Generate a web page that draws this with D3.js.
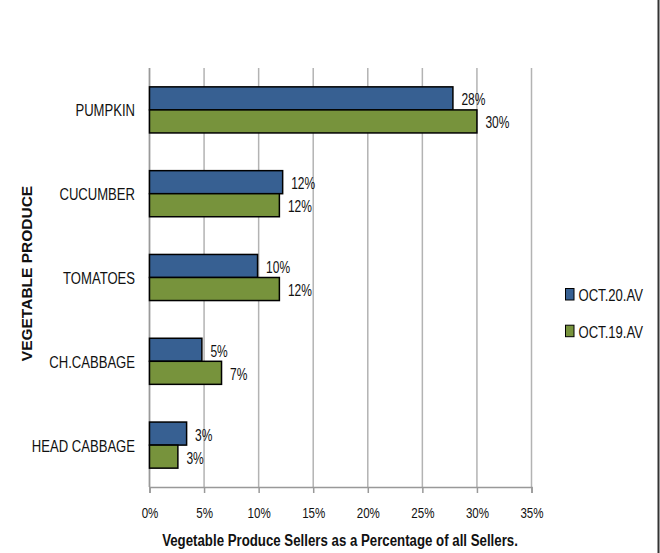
<!DOCTYPE html>
<html><head><meta charset="utf-8">
<script src="https://cdn.jsdelivr.net/npm/d3@7"></script>
<style>
body{margin:0;background:#fff;}
svg{display:block;font-family:"Liberation Sans",Arial,sans-serif;}
</style></head><body>
<svg id="c" width="660" height="553"></svg>
<script>
const categories = ["PUMPKIN","CUCUMBER","TOMATOES","CH.CABBAGE","HEAD CABBAGE"];
const seriesNames = ["OCT.20.AV","OCT.19.AV"];
const oct20 = [27.8, 12.2, 9.9, 4.8, 3.4];
const oct19 = [30.0, 11.9, 11.9, 6.6, 2.6];
const labels20 = ["28%","12%","10%","5%","3%"];
const labels19 = ["30%","12%","12%","7%","3%"];
const xTicks = [0,5,10,15,20,25,30,35];
const colors = ["#376092","#77933C"];

const SX = 0.77; // horizontal condensing to mimic the narrow chart font
const svg = d3.select("#c");
const m = {left:149.5, right:531.5, top:68, bottom:487};
const x = d3.scaleLinear().domain([0,35]).range([m.left, m.right]);
const y0 = d3.scaleBand().domain(categories).range([m.top, m.bottom]).paddingInner(0.45).paddingOuter(0.225);
const y1 = d3.scaleBand().domain(seriesNames).range([0, y0.bandwidth()]);

// outer frame right edge
svg.append("line").attr("x1",658.5).attr("x2",658.5).attr("y1",0).attr("y2",553)
  .attr("stroke","#333").attr("stroke-width",2);

// gridlines
svg.append("g").selectAll("line").data(xTicks).join("line")
  .attr("x1",d=>x(d)).attr("x2",d=>x(d)).attr("y1",m.top).attr("y2",m.bottom)
  .attr("stroke","#b3b3b3").attr("stroke-width",1.5);

// x axis
const xa = svg.append("g").attr("transform",`translate(0,${m.bottom})`)
  .call(d3.axisBottom(x).tickValues(xTicks).tickFormat(d=>d+"%").tickSize(6));
xa.select(".domain").attr("stroke","#999").attr("stroke-width",1.5);
xa.selectAll(".tick line").attr("stroke","#999").attr("stroke-width",1.5);
xa.selectAll(".tick text").attr("y",null).attr("dy",null)
  .attr("transform",`translate(0,31) scale(${SX},1)`)
  .attr("font-size",15).attr("fill","#111").style("font-family","inherit");

// y axis line
svg.append("line").attr("x1",m.left).attr("x2",m.left).attr("y1",m.top).attr("y2",m.bottom)
  .attr("stroke","#999").attr("stroke-width",1.5);

// category labels
svg.append("g").selectAll("text").data(categories).join("text")
  .attr("transform",d=>`translate(135,${y0(d)+y0.bandwidth()/2+6.5}) scale(${SX},1)`)
  .attr("text-anchor","end").attr("font-size",17).attr("fill","#111").text(d=>d);

const data = categories.map((c,i)=>({c, vals:[
  {s:seriesNames[0], v:oct20[i], l:labels20[i], col:colors[0]},
  {s:seriesNames[1], v:oct19[i], l:labels19[i], col:colors[1]}]}));

const g = svg.append("g").selectAll("g").data(data).join("g")
  .attr("transform",d=>`translate(0,${y0(d.c)})`);
g.selectAll("rect").data(d=>d.vals).join("rect")
  .attr("x",x(0)).attr("y",d=>y1(d.s)).attr("width",d=>x(d.v)-x(0)).attr("height",y1.bandwidth())
  .attr("fill",d=>d.col).attr("stroke","#000").attr("stroke-width",1.5);
g.selectAll("text").data(d=>d.vals).join("text")
  .attr("transform",d=>`translate(${x(d.v)+8.5},${y1(d.s)+y1.bandwidth()/2+7}) scale(0.75,1)`)
  .attr("font-size",16).attr("fill","#111").text(d=>d.l);

// legend
const lg = svg.append("g").selectAll("g").data(seriesNames).join("g")
  .attr("transform",(d,i)=>`translate(565.5,${288.5+i*36.7})`);
lg.append("rect").attr("width",8.5).attr("height",11.5).attr("fill",(d,i)=>colors[i]).attr("stroke","#000").attr("stroke-width",1);
lg.append("text").attr("transform",`translate(13,12.5) scale(${SX},1)`)
  .attr("font-size",17).attr("fill","#111").text(d=>d);

// axis titles
svg.append("text").attr("transform",`translate(340,546) scale(0.78,1)`).attr("text-anchor","middle")
  .attr("font-size",17).attr("font-weight","bold").attr("fill","#111")
  .text("Vegetable Produce Sellers as a Percentage of all Sellers.");
svg.append("text").attr("transform",`translate(31.5,${(m.top+m.bottom)/2 - 4}) rotate(-90)`)
  .attr("text-anchor","middle").attr("font-size",15.5).attr("font-weight","bold").attr("fill","#111")
  .text("VEGETABLE PRODUCE");
</script></body></html>
